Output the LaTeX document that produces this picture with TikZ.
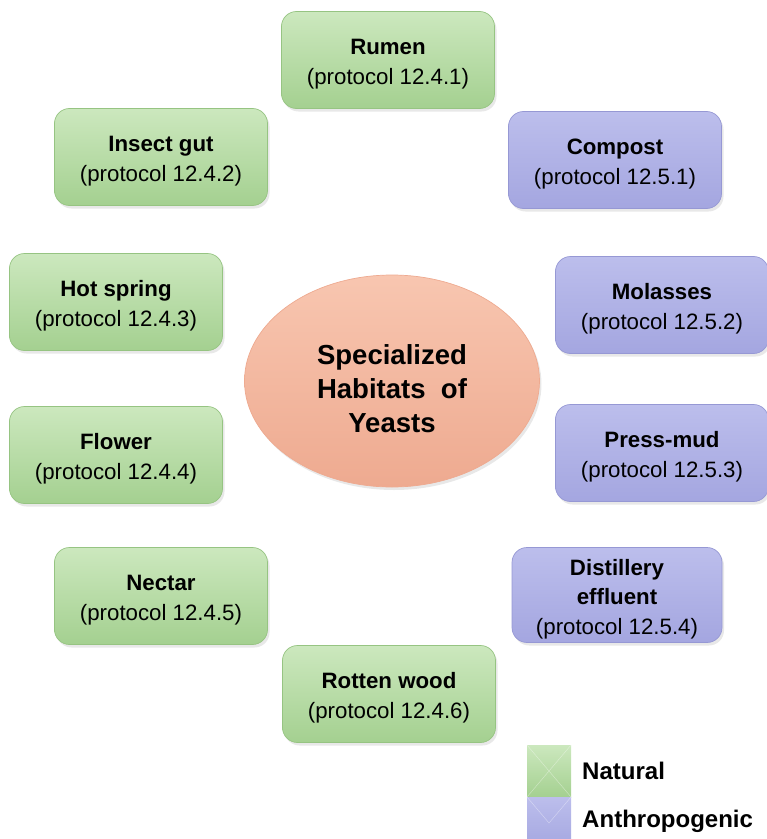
\documentclass[tikz,border=0pt]{standalone}
\usepackage{fontspec}
\setmainfont{Liberation Sans}
\usetikzlibrary{shapes.geometric,shadows}
\definecolor{natTop}{RGB}{204,232,190}
\definecolor{natBot}{RGB}{164,208,144}
\definecolor{natLine}{RGB}{150,196,130}
\definecolor{antTop}{RGB}{188,190,236}
\definecolor{antBot}{RGB}{164,166,224}
\definecolor{antLine}{RGB}{150,152,212}
\definecolor{hubTop}{RGB}{248,198,176}
\definecolor{hubBot}{RGB}{238,170,144}
\newcommand{\topgap}{\rule{0pt}{20pt}}
\begin{document}
\begin{tikzpicture}
	\tikzstyle{habitat}=[rounded corners=0.45cm, minimum width=6.39cm, minimum height=2.91cm,
		align=center, inner sep=0pt, line width=0.6pt,
		font=\fontsize{19}{25}\selectfont,
		drop shadow={opacity=0.18, shadow xshift=0.06cm, shadow yshift=-0.09cm}]
	\tikzstyle{natural}=[habitat, draw=natLine, top color=natTop, bottom color=natBot]
	\tikzstyle{anthro}=[habitat, draw=antLine, top color=antTop, bottom color=antBot]
	\tikzstyle{keybox}=[minimum width=1.32cm, minimum height=1.56cm, inner sep=0pt]
	\tikzstyle{keytext}=[anchor=west, inner sep=0pt, font=\fontsize{20.5}{24}\selectfont\bfseries]
	\useasboundingbox (0,0) rectangle (23.01,-25.17);
	\node [ellipse, minimum width=8.85cm, minimum height=6.36cm, inner sep=0pt,
		draw=hubBot, line width=0.6pt, top color=hubTop, bottom color=hubBot,
		drop shadow={opacity=0.18, shadow xshift=0.06cm, shadow yshift=-0.09cm},
		align=center, font=\fontsize{23.5}{29}\selectfont\bfseries]
		(hub) at (11.76,-11.43) {\rule{0pt}{30pt}Specialized\\Habitats~~of\\Yeasts};
	\node [natural] (rumen) at (11.64,-1.80) {\topgap\textbf{Rumen}\\(protocol 12.4.1)};
	\node [natural] (insect) at (4.83,-4.71) {\topgap\textbf{Insect gut}\\(protocol 12.4.2)};
	\node [natural] (spring) at (3.48,-9.06) {\topgap\textbf{Hot spring}\\(protocol 12.4.3)};
	\node [natural] (flower) at (3.48,-13.65) {\topgap\textbf{Flower}\\(protocol 12.4.4)};
	\node [natural] (nectar) at (4.83,-17.88) {\topgap\textbf{Nectar}\\(protocol 12.4.5)};
	\node [natural] (wood) at (11.67,-20.82) {\topgap\textbf{Rotten wood}\\(protocol 12.4.6)};
	\node [anthro] (compost) at (18.45,-4.80) {\topgap\textbf{Compost}\\(protocol 12.5.1)};
	\node [anthro] (molasses) at (19.86,-9.15) {\topgap\textbf{Molasses}\\(protocol 12.5.2)};
	\node [anthro] (pressmud) at (19.86,-13.59) {\topgap\textbf{Press-mud}\\(protocol 12.5.3)};
	\node [anthro, minimum width=6.30cm, minimum height=2.85cm] (effluent) at (18.51,-17.85)
		{\rule{0pt}{21pt}\textbf{Distillery}\\\textbf{effluent}\\(protocol 12.5.4)};
	\node [keybox, top color=natTop, bottom color=natBot] (natkey) at (16.47,-23.13) {};
	\draw [white, opacity=0.4] (natkey.north west) -- (natkey.south east)
		(natkey.north east) -- (natkey.south west);
	\node [keybox, top color=antTop, bottom color=antBot] (antkey) at (16.47,-24.69) {};
	\draw [white, opacity=0.4] (antkey.north west) -- (antkey.center) -- (antkey.north east);
	\node [keytext] (natlabel) at (17.46,-23.13) {Natural};
	\node [keytext] (antlabel) at (17.46,-24.64) {Anthropogenic};
\end{tikzpicture}
\end{document}
